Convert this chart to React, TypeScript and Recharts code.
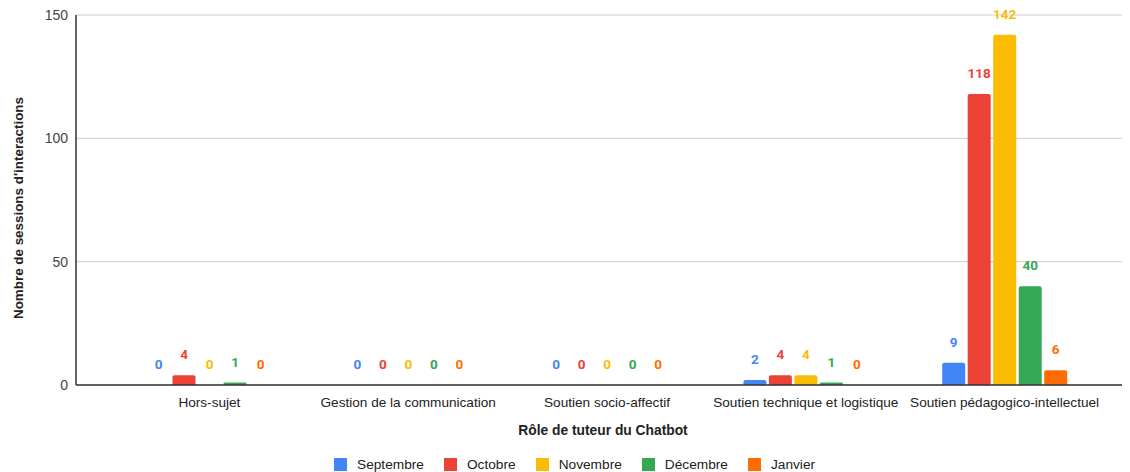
import { Bar, BarChart, CartesianGrid, LabelList, XAxis, YAxis } from "recharts"

const categories = [
  "Hors-sujet",
  "Gestion de la communication",
  "Soutien socio-affectif",
  "Soutien technique et logistique",
  "Soutien pédagogico-intellectuel",
]

const septembre = [0, 0, 0, 2, 9]
const octobre = [4, 0, 0, 4, 118]
const novembre = [0, 0, 0, 4, 142]
const decembre = [1, 0, 0, 1, 40]
const janvier = [0, 0, 0, 0, 6]

const yTicks = [0, 50, 100, 150]

const series = [
  { key: "septembre", name: "Septembre", color: "#4285F4", values: septembre },
  { key: "octobre", name: "Octobre", color: "#EA4335", values: octobre },
  { key: "novembre", name: "Novembre", color: "#FBBC04", values: novembre },
  { key: "decembre", name: "Décembre", color: "#34A853", values: decembre },
  { key: "janvier", name: "Janvier", color: "#FF6D01", values: janvier },
]

const chartData = categories.map((role, i) => {
  const row: Record<string, string | number> = { role }
  series.forEach((s) => {
    row[s.key] = s.values[i]
  })
  return row
})

const AXIS_FONT = "Arial, 'Liberation Sans', sans-serif"

export default function App() {
  return (
    <div style={{ position: "relative", width: 1130, height: 472, marginLeft: -8, marginTop: -8 }}>
      <BarChart
        width={1130}
        height={472}
        data={chartData}
        margin={{ top: 15, right: 0, bottom: 0, left: 0 }}
        barCategoryGap={37}
        barGap={2.5}
      >
        <CartesianGrid vertical={false} stroke="#cccccc" />
        <XAxis
          dataKey="role"
          height={87}
          padding={{ left: 34, right: 26 }}
          tickLine={false}
          axisLine={{ stroke: "#333333", strokeWidth: 1.5 }}
          tick={{ fontSize: 13.6, fill: "#222222", fontFamily: AXIS_FONT }}
          tickMargin={6}
          interval={0}
          label={{
            value: "Rôle de tuteur du Chatbot",
            position: "insideTop",
            offset: 40,
            style: {
              fontSize: 13.8,
              fontWeight: "bold",
              fill: "#222222",
              fontFamily: AXIS_FONT,
            },
          }}
        />
        <YAxis
          width={76}
          domain={[0, 150]}
          ticks={yTicks}
          tickLine={false}
          tickSize={0}
          tickMargin={8}
          axisLine={{ stroke: "#333333", strokeWidth: 1.5 }}
          tick={{ fontSize: 14, fill: "#444444", fontFamily: AXIS_FONT }}
          label={{
            content: () => (
              <text
                x={18}
                y={208}
                transform="rotate(-90 18 208)"
                textAnchor="middle"
                dominantBaseline="central"
                style={{
                  fontSize: 13.4,
                  fontWeight: "bold",
                  fill: "#222222",
                  fontFamily: AXIS_FONT,
                }}
              >
                Nombre de sessions d'interactions
              </text>
            ),
          }}
        />
        {series.map((s) => (
          <Bar
            key={s.key}
            dataKey={s.key}
            name={s.name}
            fill={s.color}
            radius={[2, 2, 0, 0]}
            minPointSize={0.01}
            isAnimationActive={false}
          >
            <LabelList
              dataKey={s.key}
              position="top"
              offset={16}
              fill={s.color}
              style={{ fontSize: 13.5, fontWeight: "bold", fontFamily: "Roboto, sans-serif" }}
            />
          </Bar>
        ))}
      </BarChart>
      <div
        style={{
          position: "absolute",
          left: 334,
          top: 457,
          display: "flex",
          alignItems: "center",
          fontFamily: AXIS_FONT,
          fontSize: 13.7,
          lineHeight: "15px",
          color: "#222222",
        }}
      >
        {series.map((s) => (
          <div key={s.key} style={{ display: "flex", alignItems: "center", marginRight: 20 }}>
            <span
              style={{
                display: "inline-block",
                width: 13,
                height: 13,
                background: s.color,
                marginRight: 10,
              }}
            />
            <span>{s.name}</span>
          </div>
        ))}
      </div>
    </div>
  )
}
